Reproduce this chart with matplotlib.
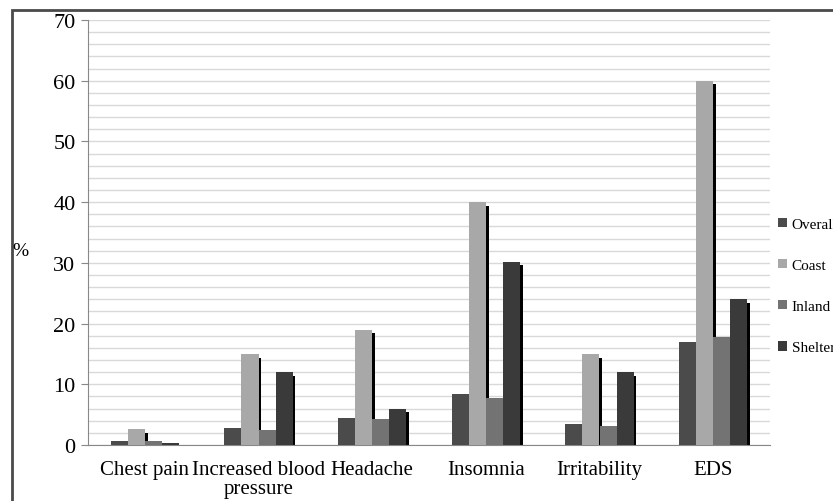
import matplotlib.pyplot as plt
import numpy as np
from matplotlib.patches import Rectangle

# Data
categories = ['Chest pain', 'Increased blood\npressure', 'Headache', 'Insomnia', 'Irritability', 'EDS']
overall = [0.6, 2.8, 4.5, 8.4, 3.4, 17.0]
coast = [2.6, 15.0, 19.0, 40.0, 15.0, 60.0]
inland = [0.7, 2.4, 4.3, 7.7, 3.2, 17.8]
shelter = [0.3, 12.0, 6.0, 30.2, 12.0, 24.0]

series = [('Overall', overall, '#4b4b4b'),
          ('Coast', coast, '#a8a8a8'),
          ('Inland', inland, '#737373'),
          ('Shelter', shelter, '#3a3a3a')]

plt.rcParams['font.family'] = 'Liberation Serif'

fig = plt.figure(figsize=(8.33, 5.02), dpi=100)
ax = fig.add_axes([88 / 833, 1 - 446 / 502, (770 - 88) / 833, (446 - 21) / 502])

x = np.arange(len(categories))
w = 0.15
for i, (name, vals, col) in enumerate(series):
    pos = x + (i - 1.5) * w
    vals = np.array(vals)
    # thin dark shadow on the right side of each bar
    ax.bar(pos + w / 2 + 0.012, np.maximum(vals - 0.6, 0), width=0.024,
           color='black', zorder=2)
    ax.bar(pos, vals, width=w, color=col, label=name, zorder=3)

ax.set_xlim(-0.5, len(categories) - 0.5)
ax.set_ylim(0, 70)
ax.set_yticks(range(0, 71, 10))
ax.set_yticks(range(0, 71, 2), minor=True)
ax.grid(axis='y', which='both', color='#d9d9d9', linewidth=1, zorder=0)
ax.set_axisbelow(True)
ax.tick_params(axis='y', which='major', length=5, color='#888888', labelsize=16, pad=4)
ax.tick_params(axis='y', which='minor', length=0)
ax.set_xticks(x)
ax.set_xticklabels(categories, fontsize=15, linespacing=1.0)
ax.tick_params(axis='x', length=0, pad=11)
for s in ['top', 'right']:
    ax.spines[s].set_visible(False)
for s in ['left', 'bottom']:
    ax.spines[s].set_color('#888888')

fig.text(12 / 833, 1 - 252 / 502, '%', fontsize=14, va='center', ha='left')

# legend runs off the right edge, as in the original figure
fig.legend(loc='center left', bbox_to_anchor=(772 / 833, 1 - 287 / 502), frameon=False,
           fontsize=11, handlelength=0.55, handleheight=0.55, handletextpad=0.35,
           labelspacing=1.85, borderaxespad=0)

# outer frame, running off the right and bottom edges
fig.patches.append(Rectangle((12 / 833, -0.1), 1.0, 1 - 11 / 502 + 0.1,
                             transform=fig.transFigure, fill=False,
                             edgecolor='#4a4a4a', linewidth=2))

fig.savefig('out.png', dpi=100)
